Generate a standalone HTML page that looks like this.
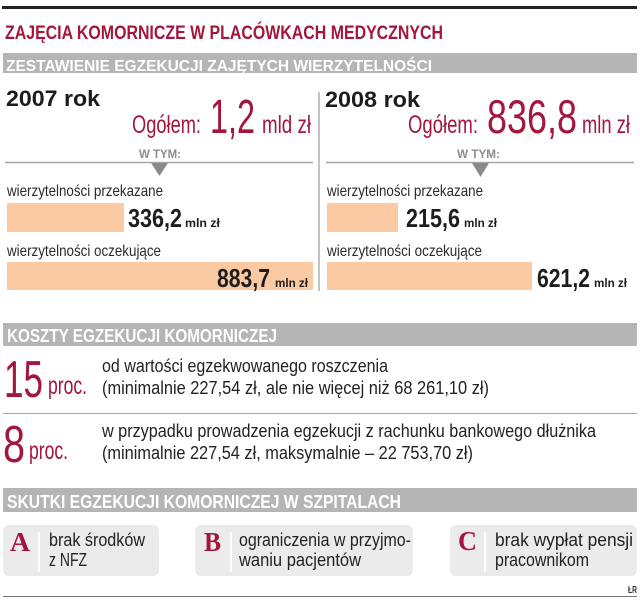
<!DOCTYPE html>
<html>
<head>
<meta charset="utf-8">
<style>
  html, body { margin:0; padding:0; background:#ffffff; }
  svg { display:block; }
  text { font-family: "Liberation Sans", "DejaVu Sans", sans-serif; }
  .serif { font-family: "Liberation Serif", "DejaVu Serif", serif; }
</style>
</head>
<body>
<svg width="640" height="602" viewBox="0 0 640 602" xmlns="http://www.w3.org/2000/svg">
  <rect x="0" y="0" width="640" height="602" fill="#ffffff"/>

  <!-- top black rule -->
  <rect x="2" y="6" width="635" height="3" fill="#222222"/>

  <!-- title -->
  <text x="5" y="39" font-size="19.5" font-weight="bold" fill="#a3163d" textLength="438" lengthAdjust="spacingAndGlyphs">ZAJĘCIA KOMORNICZE W PLACÓWKACH MEDYCZNYCH</text>

  <!-- heading 1 -->
  <rect x="3" y="53" width="634" height="20" fill="#b5b5b5"/>
  <text x="6" y="71" font-size="16" font-weight="bold" fill="#ffffff" textLength="426" lengthAdjust="spacingAndGlyphs">ZESTAWIENIE EGZEKUCJI ZAJĘTYCH WIERZYTELNOŚCI</text>

  <!-- years -->
  <text x="6" y="106" font-size="22" font-weight="bold" fill="#1c1c1c" textLength="94" lengthAdjust="spacingAndGlyphs">2007 rok</text>
  <text x="325" y="107" font-size="22" font-weight="bold" fill="#1c1c1c" textLength="95" lengthAdjust="spacingAndGlyphs">2008 rok</text>

  <!-- totals left -->
  <text x="132" y="133" font-size="25" fill="#a3163d" textLength="69" lengthAdjust="spacingAndGlyphs">Ogółem:</text>
  <text x="210" y="133" font-size="48" fill="#a3163d" textLength="45" lengthAdjust="spacingAndGlyphs">1,2</text>
  <text x="262" y="133" font-size="25" fill="#a3163d" textLength="49" lengthAdjust="spacingAndGlyphs">mld zł</text>

  <!-- totals right -->
  <text x="408" y="133" font-size="25" fill="#a3163d" textLength="70" lengthAdjust="spacingAndGlyphs">Ogółem:</text>
  <text x="487" y="133" font-size="47" fill="#a3163d" textLength="90" lengthAdjust="spacingAndGlyphs">836,8</text>
  <text x="582" y="133" font-size="25" fill="#a3163d" textLength="48" lengthAdjust="spacingAndGlyphs">mln zł</text>

  <!-- W TYM -->
  <text x="139" y="158" font-size="12" font-weight="bold" fill="#8c8c8c" textLength="42" lengthAdjust="spacingAndGlyphs">W TYM:</text>
  <text x="457" y="158" font-size="12" font-weight="bold" fill="#8c8c8c" textLength="43" lengthAdjust="spacingAndGlyphs">W TYM:</text>
  <line x1="5" y1="162.5" x2="313" y2="162.5" stroke="#a8a8a8" stroke-width="1.5"/>
  <line x1="326" y1="162.5" x2="634" y2="162.5" stroke="#a8a8a8" stroke-width="1.5"/>
  <polygon points="151,163 168,163 159.5,176" fill="#8a8a8a"/>
  <polygon points="472,163 489,163 480.5,177" fill="#8a8a8a"/>

  <!-- vertical divider -->
  <rect x="318" y="92" width="2" height="199" fill="#c2c2c2"/>

  <!-- left bars -->
  <text x="7" y="196" font-size="16" fill="#2a2a2a" textLength="156" lengthAdjust="spacingAndGlyphs">wierzytelności przekazane</text>
  <rect x="7" y="203" width="117" height="29" fill="#fccaa2"/>
  <text x="128" y="227" font-size="26" font-weight="bold" fill="#1e1e1e" textLength="54" lengthAdjust="spacingAndGlyphs">336,2</text>
  <text x="185" y="227" font-size="12" font-weight="bold" fill="#1e1e1e" textLength="35" lengthAdjust="spacingAndGlyphs">mln zł</text>

  <text x="7" y="256" font-size="16" fill="#2a2a2a" textLength="154" lengthAdjust="spacingAndGlyphs">wierzytelności oczekujące</text>
  <rect x="7" y="262" width="306" height="28" fill="#fccaa2"/>
  <text x="217" y="287" font-size="26" font-weight="bold" fill="#1e1e1e" textLength="53" lengthAdjust="spacingAndGlyphs">883,7</text>
  <text x="275" y="287" font-size="12" font-weight="bold" fill="#1e1e1e" textLength="33" lengthAdjust="spacingAndGlyphs">mln zł</text>

  <!-- right bars -->
  <text x="327" y="196" font-size="16" fill="#2a2a2a" textLength="156" lengthAdjust="spacingAndGlyphs">wierzytelności przekazane</text>
  <rect x="327" y="203" width="71" height="29" fill="#fccaa2"/>
  <text x="406" y="227" font-size="26" font-weight="bold" fill="#1e1e1e" textLength="54" lengthAdjust="spacingAndGlyphs">215,6</text>
  <text x="464" y="227" font-size="12" font-weight="bold" fill="#1e1e1e" textLength="33" lengthAdjust="spacingAndGlyphs">mln zł</text>

  <text x="327" y="256" font-size="16" fill="#2a2a2a" textLength="155" lengthAdjust="spacingAndGlyphs">wierzytelności oczekujące</text>
  <rect x="327" y="262" width="205" height="28" fill="#fccaa2"/>
  <text x="537" y="287" font-size="26" font-weight="bold" fill="#1e1e1e" textLength="53" lengthAdjust="spacingAndGlyphs">621,2</text>
  <text x="594" y="287" font-size="12" font-weight="bold" fill="#1e1e1e" textLength="33" lengthAdjust="spacingAndGlyphs">mln zł</text>

  <!-- heading 2 -->
  <rect x="3" y="323" width="634" height="23" fill="#b5b5b5"/>
  <text x="7" y="342" font-size="18" font-weight="bold" fill="#ffffff" textLength="270" lengthAdjust="spacingAndGlyphs">KOSZTY EGZEKUCJI KOMORNICZEJ</text>

  <!-- 15 proc -->
  <text x="4" y="397" font-size="52" fill="#a3163d" textLength="39" lengthAdjust="spacingAndGlyphs">15</text>
  <text x="48" y="394" font-size="25" fill="#a3163d" textLength="39" lengthAdjust="spacingAndGlyphs">proc.</text>
  <text x="102" y="372" font-size="18" fill="#222222" textLength="286" lengthAdjust="spacingAndGlyphs">od wartości egzekwowanego roszczenia</text>
  <text x="102" y="394" font-size="18" fill="#222222" textLength="387" lengthAdjust="spacingAndGlyphs">(minimalnie 227,54 zł, ale nie więcej niż 68 261,10 zł)</text>

  <line x1="3" y1="413.5" x2="637" y2="413.5" stroke="#aaaaaa" stroke-width="1"/>

  <!-- 8 proc -->
  <text x="3" y="462" font-size="52" fill="#a3163d" textLength="22" lengthAdjust="spacingAndGlyphs">8</text>
  <text x="29" y="459" font-size="25" fill="#a3163d" textLength="39" lengthAdjust="spacingAndGlyphs">proc.</text>
  <text x="102" y="437" font-size="18" fill="#222222" textLength="494" lengthAdjust="spacingAndGlyphs">w przypadku prowadzenia egzekucji z rachunku bankowego dłużnika</text>
  <text x="102" y="459" font-size="18" fill="#222222" textLength="371" lengthAdjust="spacingAndGlyphs">(minimalnie 227,54 zł, maksymalnie – 22 753,70 zł)</text>

  <!-- heading 3 -->
  <rect x="3" y="488" width="634" height="24" fill="#b5b5b5"/>
  <text x="7" y="508" font-size="18" font-weight="bold" fill="#ffffff" textLength="394" lengthAdjust="spacingAndGlyphs">SKUTKI EGZEKUCJI KOMORNICZEJ W SZPITALACH</text>

  <!-- boxes -->
  <rect x="3" y="525" width="156" height="51" rx="6" ry="6" fill="#ebebeb"/>
  <rect x="195" y="525" width="218" height="51" rx="6" ry="6" fill="#ebebeb"/>
  <rect x="450" y="525" width="187" height="51" rx="6" ry="6" fill="#ebebeb"/>

  <text class="serif" x="10" y="551" font-size="27" font-weight="bold" fill="#a3163d" textLength="20" lengthAdjust="spacingAndGlyphs">A</text>
  <text class="serif" x="204" y="551" font-size="27" font-weight="bold" fill="#a3163d" textLength="17" lengthAdjust="spacingAndGlyphs">B</text>
  <text class="serif" x="458" y="550" font-size="27" font-weight="bold" fill="#a3163d" textLength="19" lengthAdjust="spacingAndGlyphs">C</text>

  <rect x="38" y="532" width="2" height="40" fill="#ffffff"/>
  <rect x="230" y="532" width="2" height="40" fill="#ffffff"/>
  <rect x="484" y="532" width="2" height="40" fill="#ffffff"/>

  <text x="49" y="546" font-size="18" fill="#222222" textLength="96" lengthAdjust="spacingAndGlyphs">brak środków</text>
  <text x="49" y="566" font-size="18" fill="#222222" textLength="38" lengthAdjust="spacingAndGlyphs">z NFZ</text>

  <text x="239" y="546" font-size="18" fill="#222222" textLength="172" lengthAdjust="spacingAndGlyphs">ograniczenia w przyjmo-</text>
  <text x="239" y="566" font-size="18" fill="#222222" textLength="122" lengthAdjust="spacingAndGlyphs">waniu pacjentów</text>

  <text x="495" y="546" font-size="18" fill="#222222" textLength="138" lengthAdjust="spacingAndGlyphs">brak wypłat pensji</text>
  <text x="495" y="566" font-size="18" fill="#222222" textLength="94" lengthAdjust="spacingAndGlyphs">pracownikom</text>

  <!-- footer -->
  <text x="628" y="593" font-size="10" font-weight="bold" fill="#333333" textLength="9" lengthAdjust="spacingAndGlyphs">ŁR</text>
  <line x1="3" y1="596.5" x2="637" y2="596.5" stroke="#777777" stroke-width="1"/>
</svg>
</body>
</html>
